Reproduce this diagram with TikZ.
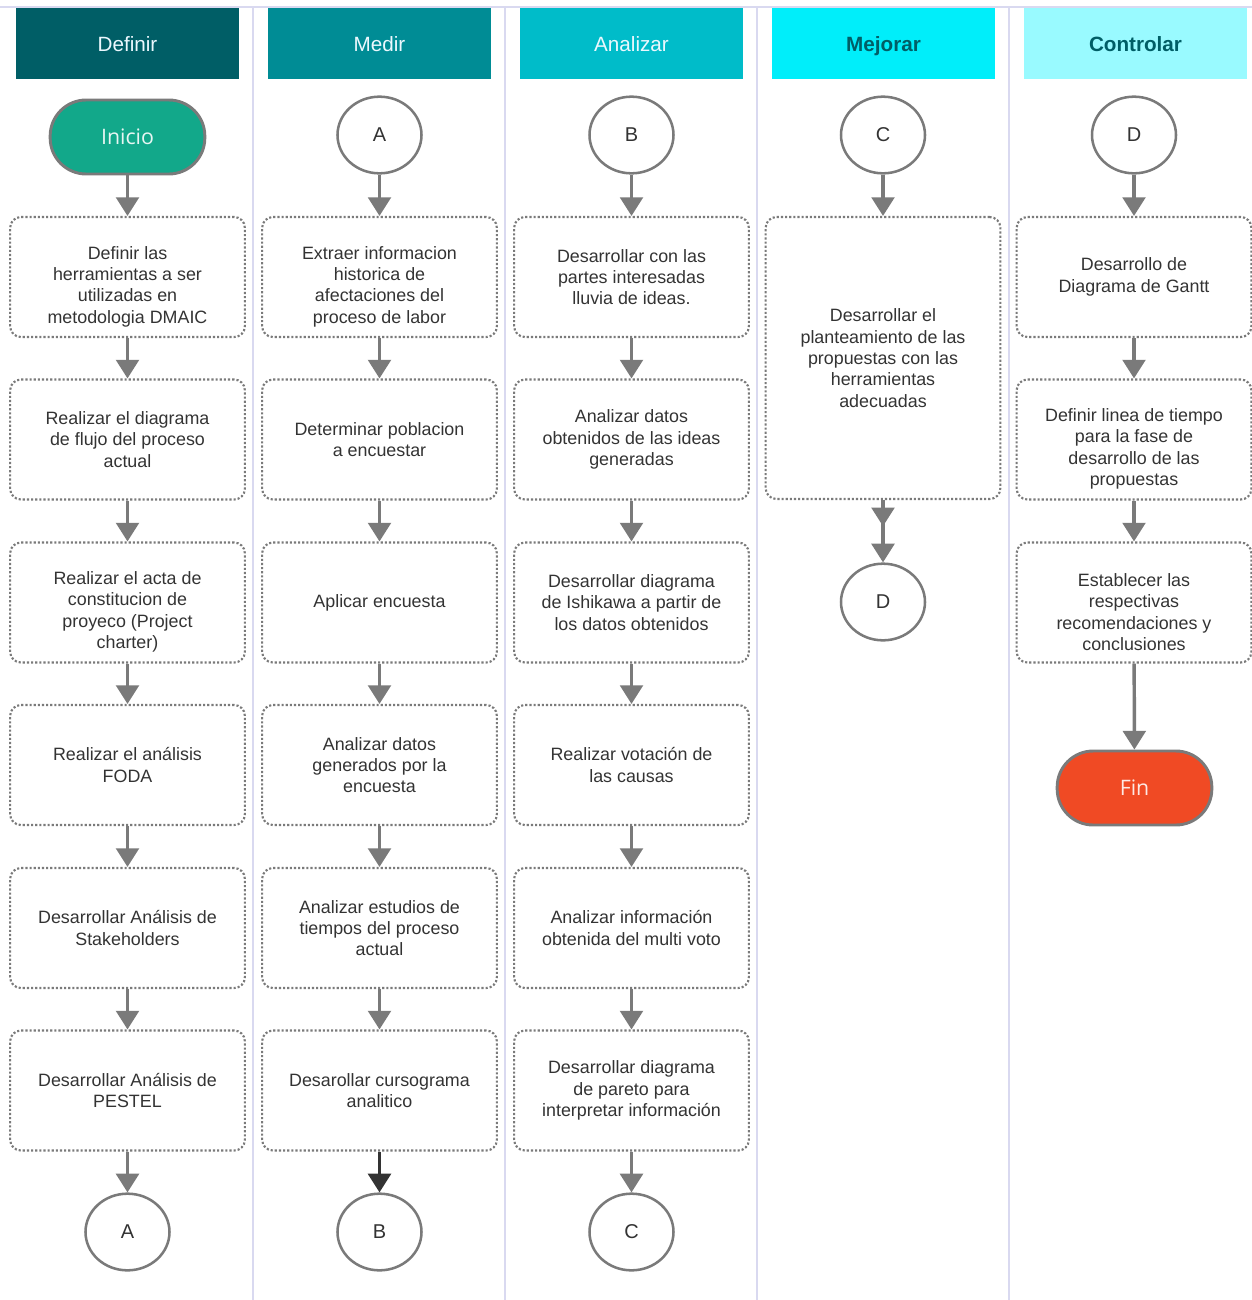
\documentclass[tikz,border=0pt]{standalone}
\usepackage{fontspec}
\setmainfont{Liberation Sans}
\newfontfamily\termfont{Open Sans}
\usetikzlibrary{arrows.meta,shapes.geometric,decorations.markings}

\definecolor{hdrdefinir}{HTML}{005E66}
\definecolor{hdrmedir}{HTML}{008C95}
\definecolor{hdranalizar}{HTML}{00BCC9}
\definecolor{hdrmejorar}{HTML}{00EEFA}
\definecolor{hdrcontrolar}{HTML}{99FAFF}
\definecolor{laneline}{HTML}{D9D9F0}
\definecolor{edgegray}{HTML}{7A7A7A}
\definecolor{txt}{HTML}{333333}
\definecolor{startfill}{HTML}{12A88A}
\definecolor{endfill}{HTML}{F04A24}

% extra room above the first line of the four-line step texts
\newcommand{\lowerfirst}{\rule{0pt}{24pt}}

\begin{document}
\begin{tikzpicture}[x=0.75pt,y=-0.75pt,
  lane/.style={draw=laneline, line width=1.5pt},
  hdr/.style={minimum width=167.25pt, minimum height=53.25pt, inner sep=0pt,
    text height=14.5pt, text depth=3pt, font=\fontsize{15.5}{18}\selectfont},
  hdrlight/.style={hdr, text=white!92!cyan},
  hdrdark/.style={hdr, text=hdrdefinir, font=\fontsize{15.5}{18}\selectfont\bfseries},
  stepbox/.style={draw=edgegray, line width=1.6pt, dash pattern=on 1.6pt off 1.5pt,
    rounded corners=8pt, minimum width=176pt, minimum height=90pt, inner sep=2pt,
    align=center, text=txt, font=\fontsize{13.4}{16}\selectfont},
  tallbox/.style={stepbox, minimum height=211.5pt},
  link/.style={ellipse, draw=edgegray, line width=1.9pt, fill=white,
    minimum width=63pt, minimum height=57.5pt, inner sep=0pt, text=txt,
    font=\fontsize{15}{18}\selectfont},
  terminal/.style={draw=edgegray, line width=2.2pt, rounded corners=27pt,
    minimum width=116pt, minimum height=55.5pt, inner sep=0pt,
    font=\termfont\fontsize{16}{19}\selectfont},
  flow/.style={draw=edgegray, line width=2.6pt, -{Triangle[width=17pt,length=14pt]}},
  flowdark/.style={draw=txt, line width=2.6pt, -{Triangle[width=17pt,length=14pt]}},
]
\useasboundingbox (0,0) rectangle (1252,1300);

% lane frame
\draw[lane] (0,7) -- (1252,7);
\foreach \x in {253,505,757,1009} \draw[lane] (\x,7) -- (\x,1300);

% lane headers
\node[hdrlight, fill=hdrdefinir]  (hD) at (127.5,43.5) {Definir};
\node[hdrlight, fill=hdrmedir]    (hM) at (379.5,43.5) {Medir};
\node[hdrlight, fill=hdranalizar] (hA) at (631.5,43.5) {Analizar};
\node[hdrdark,  fill=hdrmejorar]  (hI) at (883.5,43.5) {Mejorar};
\node[hdrdark,  fill=hdrcontrolar](hC) at (1135.5,43.5) {Controlar};

% ---- Definir ----
\node[terminal, fill=startfill, text=white!90!startfill] (inicio) at (127.5,137) {Inicio};
\node[stepbox] (d1) at (127.5,277)   {\lowerfirst Definir las\\herramientas a ser\\utilizadas en\\metodologia DMAIC};
\node[stepbox] (d2) at (127.5,439.5) {Realizar el diagrama\\de flujo del proceso\\actual};
\node[stepbox] (d3) at (127.5,602.5) {\lowerfirst Realizar el acta de\\constitucion de\\proyeco (Project\\charter)};
\node[stepbox] (d4) at (127.5,765)   {Realizar el análisis\\FODA};
\node[stepbox] (d5) at (127.5,928)   {Desarrollar Análisis de\\Stakeholders};
\node[stepbox] (d6) at (127.5,1090.5){Desarrollar Análisis de\\PESTEL};
\node[link] (outA) at (127.5,1232) {A};

\draw[flow] (inicio) -- (d1);
\draw[flow] (d1) -- (d2);
\draw[flow] (d2) -- (d3);
\draw[flow] (d3) -- (d4);
\draw[flow] (d4) -- (d5);
\draw[flow] (d5) -- (d6);
\draw[flow] (d6) -- (outA);

% ---- Medir ----
\node[link] (inA) at (379.5,135) {A};
\node[stepbox] (m1) at (379.5,277)   {\lowerfirst Extraer informacion\\historica de\\afectaciones del\\proceso de labor};
\node[stepbox] (m2) at (379.5,439.5) {Determinar poblacion\\a encuestar};
\node[stepbox] (m3) at (379.5,602.5) {Aplicar encuesta};
\node[stepbox] (m4) at (379.5,765)   {Analizar datos\\generados por la\\encuesta};
\node[stepbox] (m5) at (379.5,928)   {Analizar estudios de\\tiempos del proceso\\actual};
\node[stepbox] (m6) at (379.5,1090.5){Desarollar cursograma\\analitico};
\node[link] (outB) at (379.5,1232) {B};

\draw[flow] (inA) -- (m1);
\draw[flow] (m1) -- (m2);
\draw[flow] (m2) -- (m3);
\draw[flow] (m3) -- (m4);
\draw[flow] (m4) -- (m5);
\draw[flow] (m5) -- (m6);
\draw[flowdark] (m6) -- (outB);

% ---- Analizar ----
\node[link] (inB) at (631.5,135) {B};
\node[stepbox] (a1) at (631.5,277)   {Desarrollar con las\\partes interesadas\\lluvia de ideas.};
\node[stepbox] (a2) at (631.5,439.5) {Analizar datos\\obtenidos de las ideas\\generadas};
\node[stepbox] (a3) at (631.5,602.5) {Desarrollar diagrama\\de Ishikawa a partir de\\los datos obtenidos};
\node[stepbox] (a4) at (631.5,765)   {Realizar votación de\\las causas};
\node[stepbox] (a5) at (631.5,928)   {Analizar información\\obtenida del multi voto};
\node[stepbox] (a6) at (631.5,1090.5){Desarrollar diagrama\\de pareto para\\interpretar información};
\node[link] (outC) at (631.5,1232) {C};

\draw[flow] (inB) -- (a1);
\draw[flow] (a1) -- (a2);
\draw[flow] (a2) -- (a3);
\draw[flow] (a3) -- (a4);
\draw[flow] (a4) -- (a5);
\draw[flow] (a5) -- (a6);
\draw[flow] (a6) -- (outC);

% ---- Mejorar ----
\node[link] (inC) at (883,135) {C};
\node[tallbox] (i1) at (883,358) {Desarrollar el\\planteamiento de las\\propuestas con las\\herramientas\\adecuadas};
\node[link] (outD) at (883,602) {D};

\draw[flow] (inC) -- (i1);
\draw[flow, postaction={decorate}, decoration={markings,
  mark=at position 0.42 with {\arrow{Triangle[width=17pt,length=14pt]}}}] (i1) -- (outD);

% ---- Controlar ----
\node[link] (inD) at (1134,135) {D};
\node[stepbox] (c1) at (1134,277)   {Desarrollo de\\Diagrama de Gantt};
\node[stepbox] (c2) at (1134,439.5) {\lowerfirst Definir linea de tiempo\\para la fase de\\desarrollo de las\\propuestas};
\node[stepbox] (c3) at (1134,602.5) {\lowerfirst Establecer las\\respectivas\\recomendaciones y\\conclusiones};
\node[terminal, fill=endfill, text=white!88!endfill] (fin) at (1134.5,788) {Fin};

\draw[flow] (inD) -- (c1);
\draw[flow] (c1) -- (c2);
\draw[flow] (c2) -- (c3);
\draw[flow] (c3) -- (fin);
\end{tikzpicture}
\end{document}
